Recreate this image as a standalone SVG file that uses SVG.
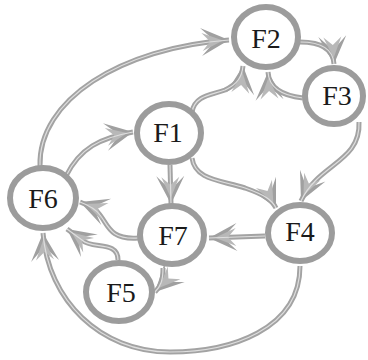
<svg xmlns="http://www.w3.org/2000/svg" width="368" height="360" viewBox="0 0 368 360">
<defs>
<marker id="ah" markerUnits="userSpaceOnUse" markerWidth="34" markerHeight="32" refX="30" refY="16" orient="auto" overflow="visible">
<path d="M30,16 L2,2 L14,14 L13,16 L14,18 L2,30 Z" fill="#a0a0a0"/>
<path d="M24,16 L3,7 L11,16 L3,25 Z" fill="#b8b8b8"/>
</marker>
</defs>
<g id="connectors" fill="none">
<g stroke="#a3a3a3" stroke-width="5" marker-end="url(#ah)">
<path d="M40,166 C38,100 120,48 229,40"/>
<path d="M66,176 C80,148 100,138 133,132"/>
<path d="M192,112 C195,95 212,95 225,90 C238,84 242,76 243,66"/>
<path d="M303,98 C285,96 269,90 268,72"/>
<path d="M300,42 C320,42 333,48 334,64"/>
<path d="M359,122 C361,162 318,164 301,201"/>
<path d="M192,158 C195,180 220,180 245,188 C265,195 272,200 276,208"/>
<path d="M170,165 L171,204"/>
<path d="M265,236 L209,238"/>
<path d="M138,238 C110,240 108,225 100,215 C95,208 88,205 80,202"/>
<path d="M118,260 C118,240 92,250 82,240 C75,235 71,232 67,229"/>
<path d="M163,268 C163,280 161,286 155,292"/>
<path d="M300,266 C300,330 230,352 170,352 C100,352 48,300 43,233"/>
</g>
<g stroke="#dedede" stroke-width="1.2">
<path d="M40,166 C38,100 120,48 229,40"/>
<path d="M66,176 C80,148 100,138 133,132"/>
<path d="M192,112 C195,95 212,95 225,90 C238,84 242,76 243,66"/>
<path d="M303,98 C285,96 269,90 268,72"/>
<path d="M300,42 C320,42 333,48 334,64"/>
<path d="M359,122 C361,162 318,164 301,201"/>
<path d="M192,158 C195,180 220,180 245,188 C265,195 272,200 276,208"/>
<path d="M170,165 L171,204"/>
<path d="M265,236 L209,238"/>
<path d="M138,238 C110,240 108,225 100,215 C95,208 88,205 80,202"/>
<path d="M118,260 C118,240 92,250 82,240 C75,235 71,232 67,229"/>
<path d="M163,268 C163,280 161,286 155,292"/>
<path d="M300,266 C300,330 230,352 170,352 C100,352 48,300 43,233"/>
</g>
</g>
<g fill="#fff" stroke="#9c9c9c" stroke-width="6">
<g id="F2"><ellipse cx="266" cy="37" rx="32" ry="30"/></g>
<g id="F3"><ellipse cx="334" cy="96" rx="29" ry="28"/></g>
<g id="F1"><ellipse cx="169" cy="133" rx="32" ry="29"/></g>
<g id="F6"><ellipse cx="43" cy="198" rx="33" ry="30"/></g>
<g id="F7"><ellipse cx="172" cy="235" rx="32" ry="29"/></g>
<g id="F4"><ellipse cx="300" cy="233" rx="32" ry="28"/></g>
<g id="F5"><ellipse cx="119" cy="292" rx="33" ry="29"/></g>
</g>
<g font-family="Liberation Serif, Times New Roman, serif" font-size="28" fill="#1a1a1a" text-anchor="middle">
<text x="266" y="48">F2</text>
<text x="337" y="105">F3</text>
<text x="168" y="142">F1</text>
<text x="43" y="208">F6</text>
<text x="173" y="245">F7</text>
<text x="300" y="241">F4</text>
<text x="121" y="302">F5</text>
</g>
</svg>
